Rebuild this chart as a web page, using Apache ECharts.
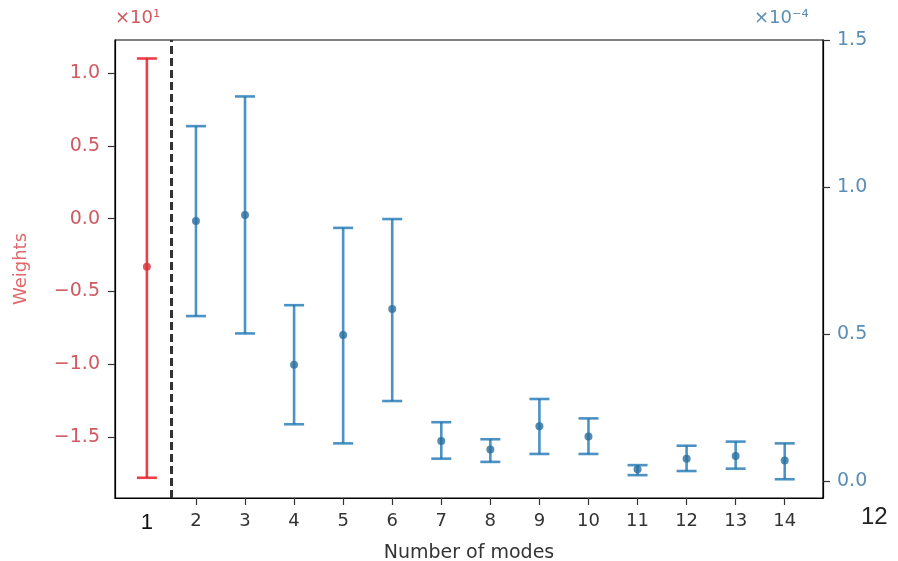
<!DOCTYPE html>
<html>
<head>
<meta charset="utf-8">
<script src="https://cdn.jsdelivr.net/npm/echarts@6/dist/echarts.min.js"></script>
<style>
  html, body { margin: 0; padding: 0; background: #fff; }
  #chart { width: 898px; height: 561px; }
</style>
</head>
<body>
<div id="chart"></div>
<script>
// Number of modes on the x axis
const modeLabels = ['1', '2', '3', '4', '5', '6', '7', '8', '9', '10', '11', '12', '13', '14'];

// Mode 1 weight (left axis, ×10^1): mean and error-bar range
const firstModes = [1];
const firstMean = [-0.33];
const firstLow = [-1.78];
const firstHigh = [1.10];

// Remaining modes (right axis, ×10^-4): mean and error-bar range
const restModes = [2, 3, 4, 5, 6, 7, 8, 9, 10, 11, 12, 13, 14];
const restMean = [0.884, 0.905, 0.395, 0.497, 0.585, 0.136, 0.107, 0.186, 0.151, 0.040, 0.076, 0.085, 0.070];
const restLow  = [0.561, 0.502, 0.193, 0.128, 0.272, 0.076, 0.065, 0.092, 0.092, 0.020, 0.034, 0.042, 0.006];
const restHigh = [1.207, 1.308, 0.598, 0.861, 0.891, 0.200, 0.142, 0.279, 0.213, 0.054, 0.120, 0.134, 0.128];

// Tick labels
const leftTicks = [-1.5, -1.0, -0.5, 0.0, 0.5, 1.0];
const rightTicks = [0.0, 0.5, 1.0, 1.5];
const xTicks = [2, 3, 4, 5, 6, 7, 8, 9, 10, 11, 12, 13, 14];
const xLabelValues = [1, 2, 3, 4, 5, 6, 7, 8, 9, 10, 11, 12, 13, 14];
const splitAt = 1.5;

const RED = 'rgba(232, 30, 40, 0.85)';
const RED_TEXT = '#cf5a60';
const BLUE = 'rgba(31, 119, 180, 0.8)';
const BLUE_DOT = '#2a6f9e';
const BLUE_TEXT = '#5b8db5';
const FONT = 'DejaVu Sans';

const fmt = v => (v < 0 ? '\u2212' : '') + Math.abs(v).toFixed(1);

function errorBar(color) {
  return function (params, api) {
    const x = api.value(0);
    const lo = api.coord([x, api.value(1)]);
    const hi = api.coord([x, api.value(2)]);
    const hw = 10;
    const style = { stroke: color, lineWidth: 2.6 };
    return {
      type: 'group',
      children: [
        { type: 'line', shape: { x1: lo[0], y1: lo[1], x2: hi[0], y2: hi[1] }, style },
        { type: 'line', shape: { x1: hi[0] - hw, y1: hi[1], x2: hi[0] + hw, y2: hi[1] }, style },
        { type: 'line', shape: { x1: lo[0] - hw, y1: lo[1], x2: lo[0] + hw, y2: lo[1] }, style }
      ]
    };
  };
}

const firstBars = firstModes.map((m, i) => [m, firstLow[i], firstHigh[i]]);
const firstPts = firstModes.map((m, i) => [m, firstMean[i]]);
const restBars = restModes.map((m, i) => [m, restLow[i], restHigh[i]]);
const restPts = restModes.map((m, i) => [m, restMean[i]]);

const chart = echarts.init(document.getElementById('chart'), null, { renderer: 'canvas' });

chart.setOption({
  backgroundColor: '#fff',
  animation: false,
  textStyle: { fontFamily: FONT },
  grid: {
    left: 115, right: 75, top: 40, bottom: 63,
    outerBoundsMode: 'none',
    containLabel: false,
    show: true, borderColor: '#000', borderWidth: 1.2, backgroundColor: 'transparent'
  },
  xAxis: {
    type: 'value',
    min: 0.35, max: 14.78,
    name: 'Number of modes',
    nameLocation: 'middle',
    nameGap: 46,
    nameTextStyle: { color: '#333', fontSize: 19, fontFamily: FONT },
    axisLine: { show: true, onZero: false, lineStyle: { color: '#000', width: 1.2 } },
    axisTick: { show: true, length: 7, lineStyle: { color: '#333', width: 1.2 }, customValues: xTicks },
    axisLabel: {
      color: '#333', fontSize: 18, margin: 14, fontFamily: FONT,
      customValues: xLabelValues,
      formatter: v => v === 1 ? '{first|' + modeLabels[0] + '}' : modeLabels[v - 1],
      rich: { first: { color: '#111', fontSize: 22, fontFamily: 'Liberation Sans' } }
    },
    splitLine: { show: false }
  },
  yAxis: [
    {
      type: 'value',
      min: -1.919, max: 1.227,
      position: 'left',
      name: 'Weights',
      nameLocation: 'middle',
      nameRotate: 90,
      nameGap: 85,
      nameTextStyle: { color: '#e0686a', fontSize: 18, fontFamily: FONT },
      axisLine: { show: true, lineStyle: { color: '#000', width: 1.2 } },
      axisTick: { show: true, length: 7, lineStyle: { color: '#333', width: 1.2 }, customValues: leftTicks },
      axisLabel: { color: RED_TEXT, fontSize: 19, margin: 15, customValues: leftTicks, formatter: fmt },
      splitLine: { show: false }
    },
    {
      type: 'value',
      min: -0.0578, max: 1.5,
      position: 'right',
      axisLine: { show: true, lineStyle: { color: '#000', width: 1.2 } },
      axisTick: { show: true, length: 7, lineStyle: { color: '#333', width: 1.2 }, customValues: rightTicks },
      axisLabel: { color: BLUE_TEXT, fontSize: 19, margin: 14, customValues: rightTicks, formatter: fmt },
      splitLine: { show: false }
    }
  ],
  graphic: [
    { type: 'text', left: 115, top: 9, style: { text: '×10¹', fill: RED_TEXT, font: '18px "DejaVu Sans"' } },
    { type: 'text', left: 754, top: 9, style: { text: '×10⁻⁴', fill: BLUE_TEXT, font: '18px "DejaVu Sans"' } },
    { type: 'text', left: 861, top: 505, style: { text: '12', fill: '#222', font: '24px "Liberation Sans"' } }
  ],
  series: [
    {
      type: 'custom', name: 'first-err', xAxisIndex: 0, yAxisIndex: 0,
      renderItem: errorBar(RED), data: firstBars, encode: { x: 0, y: [1, 2] }, z: 3,
      markLine: {
        silent: true, symbol: 'none', label: { show: false },
        lineStyle: { color: '#333', width: 3, type: [8, 4] },
        data: [{ xAxis: splitAt }]
      }
    },
    {
      type: 'scatter', name: 'first', xAxisIndex: 0, yAxisIndex: 0,
      data: firstPts, symbol: 'circle', symbolSize: 8,
      itemStyle: { color: '#d8303a' }, z: 4
    },
    {
      type: 'custom', name: 'rest-err', xAxisIndex: 0, yAxisIndex: 1,
      renderItem: errorBar(BLUE), data: restBars, encode: { x: 0, y: [1, 2] }, z: 3
    },
    {
      type: 'scatter', name: 'rest', xAxisIndex: 0, yAxisIndex: 1,
      data: restPts, symbol: 'circle', symbolSize: 8,
      itemStyle: { color: BLUE_DOT }, z: 4
    }
  ]
});
</script>
</body>
</html>
